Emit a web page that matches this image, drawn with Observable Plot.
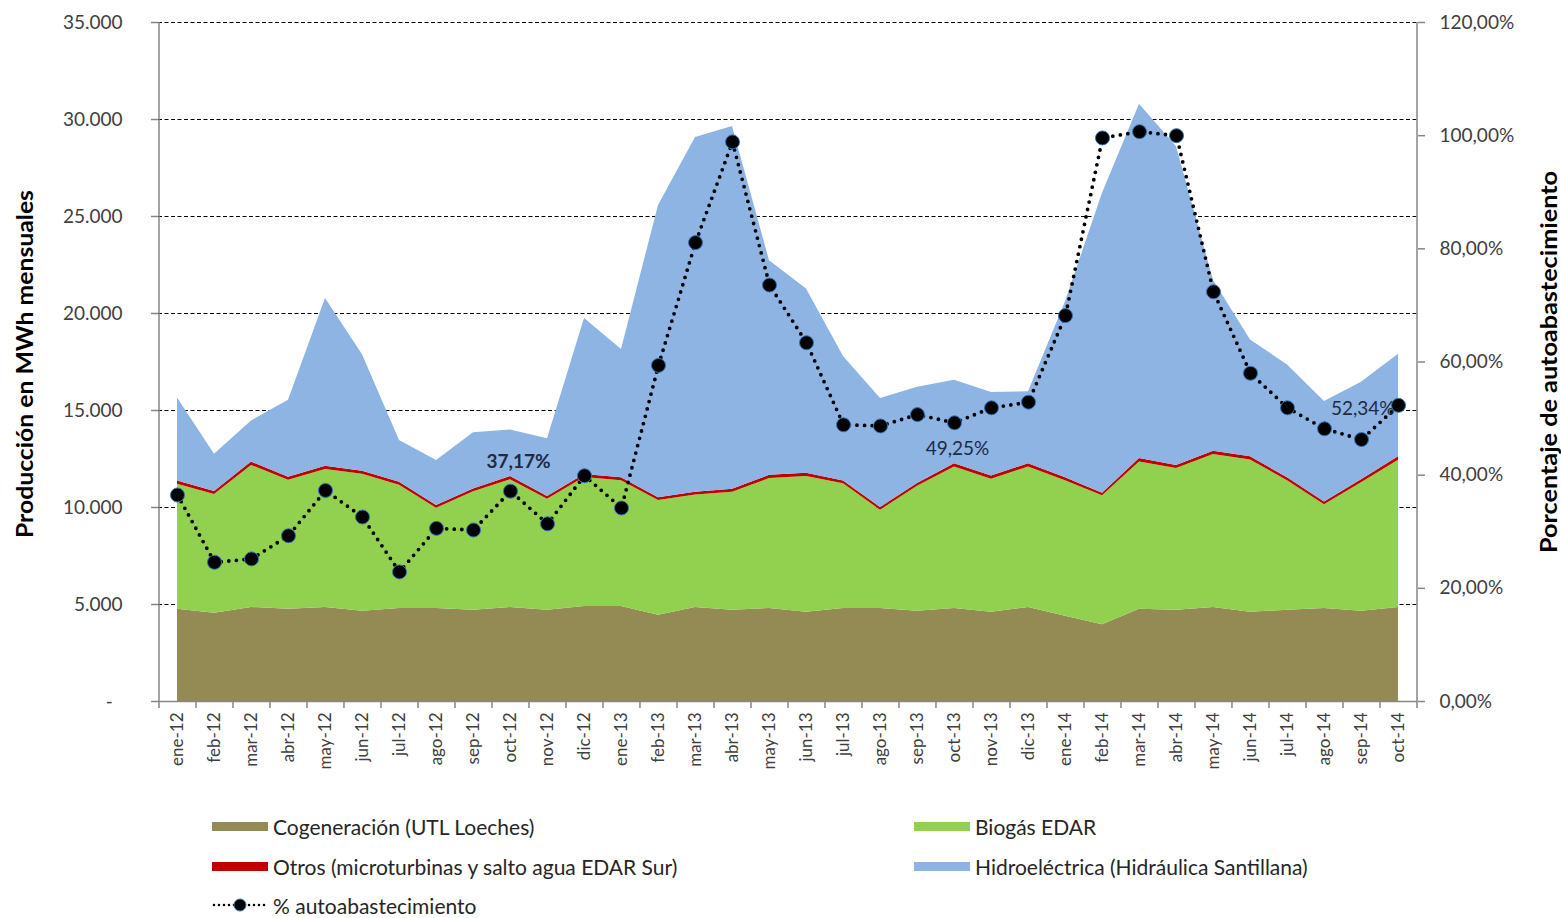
<!DOCTYPE html>
<html><head><meta charset="utf-8">
<script src="https://cdn.jsdelivr.net/npm/d3@7"></script>
<script src="https://cdn.jsdelivr.net/npm/@observablehq/plot@0.6"></script>
<style>
body{margin:0;background:#fff;}
#wrap{position:relative;width:1561px;height:918px;overflow:hidden;font-family:Lato, sans-serif;background:#fff;}
#chart{position:absolute;left:0;top:0;}
.leg{position:absolute;display:flex;align-items:center;height:26px;font-size:21px;color:#262626;white-space:nowrap;}
.sw{width:56px;height:9px;margin-right:5px;flex:none;}
</style></head><body><div id="wrap"><div id="chart"></div></div>
<script>
const months = ["ene-12","feb-12","mar-12","abr-12","may-12","jun-12","jul-12","ago-12","sep-12","oct-12","nov-12","dic-12",
  "ene-13","feb-13","mar-13","abr-13","may-13","jun-13","jul-13","ago-13","sep-13","oct-13","nov-13","dic-13",
  "ene-14","feb-14","mar-14","abr-14","may-14","jun-14","jul-14","ago-14","sep-14","oct-14"];

const seriesNames = ["Cogeneración (UTL Loeches)", "Biogás EDAR", "Otros (microturbinas y salto agua EDAR Sur)", "Hidroeléctrica (Hidráulica Santillana)"];
const seriesColors = ["#948A54", "#92D050", "#C00000", "#8DB4E2"];

const cogeneracion = [4750,4550,4850,4750,4850,4650,4800,4800,4700,4850,4700,4900,4900,4450,4850,4700,4800,4600,4800,4800,4650,4800,4600,4850,4400,3950,4750,4700,4850,4600,4700,4800,4650,4850];
const biogas = [6450,6120,7320,6650,7110,7060,6350,5160,6110,6580,5720,6640,6480,5910,5790,6080,6690,7000,6420,5060,6440,7290,6860,7240,6980,6650,7600,7310,7880,7850,6680,5340,6630,7590];
const otros = [160,150,170,160,170,160,150,140,150,170,150,160,150,140,150,160,170,160,150,140,150,170,160,170,150,140,170,160,170,160,150,140,150,170];
const hidro = [4280,1920,2120,3970,8640,6010,2150,2320,2890,2400,2970,8040,6610,15070,18280,18700,11060,9500,6410,5620,4960,4300,4310,3710,9070,15460,18260,16430,8800,6020,5820,5190,5030,5290];

const autoabastecimiento = [36.5,24.6,25.2,29.3,37.3,32.6,22.9,30.6,30.3,37.17,31.4,39.9,34.2,59.4,81.1,98.9,73.6,63.4,48.9,48.7,50.7,49.25,51.9,52.9,68.2,99.6,100.7,100.0,72.4,58.0,51.9,48.2,46.3,52.34];
const lineName = "% autoabastecimiento";
const labeledMonths = ["oct-12", "oct-13", "oct-14"];

const yTicks = [0,5000,10000,15000,20000,25000,30000,35000];
const pctTicks = [0,20,40,60,80,100,120];
const leftTitle = "Producción en MWh mensuales";
const rightTitle = "Porcentaje de autoabastecimiento";

const W = 1561, H = 800, ML = 158, MR = 144, MT = 22, MB = 99;
const step = (W - ML - MR) / months.length;
const K = 35000 / 120;

const seriesValues = [cogeneracion, biogas, otros, hidro];
const stacked = seriesNames.flatMap((s, j) => months.map((m, i) => ({month: m, series: s, value: seriesValues[j][i]})));
const pctRows = months.map((m, i) => ({month: m, pct: autoabastecimiento[i]}));

const locale = d3.formatLocale({decimal: ",", thousands: ".", grouping: [3], currency: ["", " €"]});
const fmtInt = locale.format(",d");
const fmtPct = locale.format(".2f");
const axisGray = "#868686";
const labelColor = "#1f2a44";

const lab = (m) => pctRows.filter(d => d.month === m);

const chart = Plot.plot({
  width: W, height: H, marginLeft: ML, marginRight: MR, marginTop: MT, marginBottom: MB,
  style: {fontFamily: "Lato, sans-serif", fontSize: "19px", background: "white", color: "#404040"},
  x: {type: "point", domain: months, padding: 0.5, axis: null},
  y: {domain: [0, 35000], axis: null},
  color: {domain: seriesNames, range: seriesColors},
  marks: [
    Plot.gridY({ticks: yTicks.slice(1), stroke: "#000", strokeOpacity: 1, strokeWidth: 1, strokeDasharray: "4 2.5"}),
    Plot.areaY(stacked, {x: "month", y: "value", fill: "series", order: seriesNames, curve: "linear"}),
    Plot.ruleY([0], {stroke: axisGray, strokeWidth: 1.5}),
    Plot.ruleX([months[0]], {dx: -step / 2, stroke: axisGray, strokeWidth: 1.5}),
    Plot.ruleX([months[months.length - 1]], {dx: step / 2, stroke: axisGray, strokeWidth: 1.5}),
    Plot.axisY({ticks: yTicks, tickSize: 7, tickPadding: 29, tickFormat: d => d === 0 ? "-\u00a0\u00a0" : fmtInt(d), stroke: axisGray, strokeWidth: 1.5, fill: "#404040", fontSize: 19, label: null}),
    Plot.axisY({anchor: "right", ticks: pctTicks.map(p => p * K), tickSize: 7, tickPadding: 15, tickFormat: v => fmtPct(v / K) + "%", stroke: axisGray, strokeWidth: 1.5, fill: "#404040", fontSize: 19, label: null}),
    Plot.axisX({ticks: months, tickSize: 7, dx: -step / 2, tickFormat: () => "", stroke: axisGray, strokeWidth: 1.5, label: null}),
    Plot.axisX({ticks: [months[months.length - 1]], tickSize: 7, dx: step / 2, tickFormat: () => "", stroke: axisGray, strokeWidth: 1.5, label: null}),
    Plot.axisX({ticks: months, tickSize: 0, tickPadding: 11, tickRotate: -90, fontSize: 17, fill: "#404040", label: null}),
    Plot.line(pctRows, {x: "month", y: d => d.pct * K, stroke: "#000", strokeWidth: 3.8, strokeDasharray: "0 7.6", strokeLinecap: "round"}),
    Plot.text(lab(labeledMonths[0]), {x: "month", y: d => d.pct * K, text: d => fmtPct(d.pct) + "%", dx: 8, dy: -29, fontWeight: "bold", fontSize: 19, fill: labelColor}),
    Plot.text(lab(labeledMonths[1]), {x: "month", y: d => d.pct * K, text: d => fmtPct(d.pct) + "%", dx: 3, dy: 26, fontSize: 19, fill: labelColor}),
    Plot.text(lab(labeledMonths[2]), {x: "month", y: d => d.pct * K, text: d => fmtPct(d.pct) + "%", dx: -4, dy: 4, textAnchor: "end", fontSize: 19, fill: labelColor}),
    Plot.dot(pctRows, {x: "month", y: d => d.pct * K, r: 7, fill: "#000", stroke: "#2e75b6", strokeWidth: 1}),
    Plot.text([leftTitle], {text: d => d, frameAnchor: "left", textAnchor: "middle", dx: -133, dy: 2, rotate: -90, fontWeight: "bold", fontSize: 23, fill: "#000"}),
    Plot.text([rightTitle], {text: d => d, frameAnchor: "right", textAnchor: "middle", dx: 132, rotate: -90, fontWeight: "bold", fontSize: 23, fill: "#000"})
  ]
});

chart.querySelectorAll("text").forEach(t => {
  if (t.textContent === leftTitle) { t.setAttribute("textLength", 348); t.setAttribute("lengthAdjust", "spacingAndGlyphs"); }
  if (t.textContent === rightTitle) { t.setAttribute("textLength", 382); t.setAttribute("lengthAdjust", "spacingAndGlyphs"); }
});
document.getElementById("chart").appendChild(chart);

// Legend (HTML, below the SVG)
const wrap = document.getElementById("wrap");
const legendItems = [
  {name: seriesNames[0], color: seriesColors[0], left: 212, cy: 826},
  {name: seriesNames[1], color: seriesColors[1], left: 914, cy: 826},
  {name: seriesNames[2], color: seriesColors[2], left: 212, cy: 866},
  {name: seriesNames[3], color: seriesColors[3], left: 914, cy: 866}
];
legendItems.forEach(it => {
  const d = document.createElement("div");
  d.className = "leg";
  d.style.left = it.left + "px";
  d.style.top = (it.cy - 13) + "px";
  d.innerHTML = `<span class="sw" style="background:${it.color}"></span><span>${it.name}</span>`;
  wrap.appendChild(d);
});
const dl = document.createElement("div");
dl.className = "leg";
dl.style.left = "212px";
dl.style.top = (905 - 13) + "px";
dl.innerHTML = `<svg width="56" height="14" style="margin-right:5px;flex:none"><line x1="2" y1="7" x2="54" y2="7" stroke="#000" stroke-width="2.6" stroke-dasharray="0 5" stroke-linecap="round"/><circle cx="28" cy="7" r="6" fill="#000" stroke="#2e75b6" stroke-width="1"/></svg><span>${lineName}</span>`;
wrap.appendChild(dl);
</script></body></html>
